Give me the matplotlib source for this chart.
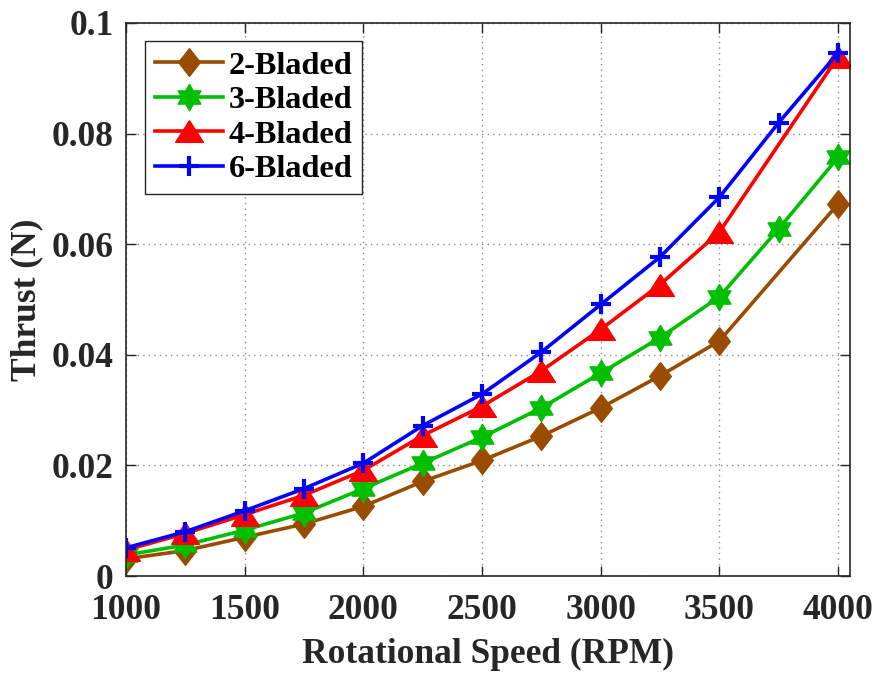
import numpy as np
import matplotlib
matplotlib.use("Agg")
import matplotlib.pyplot as plt

plt.rcParams['font.family'] = ['Liberation Serif', 'DejaVu Serif']
plt.rcParams['font.weight'] = 'bold'

# Rotational speed (RPM) for each propeller
rpm_full = [1000, 1250, 1500, 1750, 2000, 2250, 2500, 2750, 3000, 3250, 3500, 3750, 4000]
rpm_short = [1000, 1250, 1500, 1750, 2000, 2250, 2500, 2750, 3000, 3250, 3500, 4000]

# Thrust (N)
thrust_2 = [0.0031, 0.0046, 0.0070, 0.0094, 0.0126, 0.0171, 0.0209, 0.0253, 0.0304, 0.0362, 0.0425, 0.0673]
thrust_3 = [0.0038, 0.0056, 0.0083, 0.0114, 0.0158, 0.0204, 0.0251, 0.0304, 0.0367, 0.0431, 0.0505, 0.0628, 0.0757]
thrust_4 = [0.0047, 0.0077, 0.0111, 0.0146, 0.0191, 0.0254, 0.0307, 0.0371, 0.0446, 0.0527, 0.0622, 0.0939]
thrust_6 = [0.0051, 0.0080, 0.0118, 0.0158, 0.0204, 0.0272, 0.0329, 0.0405, 0.0491, 0.0577, 0.0685, 0.0820, 0.0946]

labels = ['2-Bladed', '3-Bladed', '4-Bladed', '6-Bladed']
colors = ['#994C00', '#00BF00', '#FF0000', '#0000FF']

x_ticks = [1000, 1500, 2000, 2500, 3000, 3500, 4000]
y_ticks = [0, 0.02, 0.04, 0.06, 0.08, 0.1]
y_ticklabels = ['0', '0.02', '0.04', '0.06', '0.08', '0.1']

# marker shapes
diamond = [(0, 1), (0.78, 0), (0, -1), (-0.78, 0), (0, 1)]
triangle = [(0, 0.78), (1, -0.78), (-1, -0.78), (0, 0.78)]
ang = np.deg2rad(90 + np.arange(12) * 30)
rad = np.where(np.arange(12) % 2 == 0, 1.0, 0.577)
hexagram = list(zip(rad * np.cos(ang), rad * np.sin(ang)))
hexagram.append(hexagram[0])

fig = plt.figure(figsize=(8.8, 6.74), dpi=100)
ax = fig.add_axes([0.1432, 0.1454, 0.8227, 0.8205])

ax.plot(rpm_short, thrust_2, color=colors[0], lw=2.6, marker=diamond, ms=20,
        mfc=colors[0], mec=colors[0], mew=1, label=labels[0])
ax.plot(rpm_full, thrust_3, color=colors[1], lw=2.6, marker=hexagram, ms=19,
        mfc=colors[1], mec=colors[1], mew=1, label=labels[1])
ax.plot(rpm_short, thrust_4, color=colors[2], lw=2.6, marker=triangle, ms=20,
        mfc=colors[2], mec=colors[2], mew=1, label=labels[2])
ax.plot(rpm_full, thrust_6, color=colors[3], lw=2.6, marker='+', ms=15,
        mew=3, label=labels[3])

ax.set_xlim(1000, 4050)
ax.set_ylim(0, 0.1)
ax.set_xticks(x_ticks)
ax.set_yticks(y_ticks)
ax.set_yticklabels(y_ticklabels)

ax.grid(True, linestyle=(0, (1, 3)), color='#8c8c8c', linewidth=1.0)
ax.set_axisbelow(True)
ax.tick_params(direction='in', length=7, width=1, top=True, right=True,
               labelsize=25.5, colors='#262626')
ax.tick_params(axis='x', pad=13)
ax.tick_params(axis='y', pad=9)
for lab in ax.get_xticklabels() + ax.get_yticklabels():
    lab.set_fontweight('bold')
for sp in ax.spines.values():
    sp.set_color('#262626')
    sp.set_linewidth(1.2)

ax.set_xlabel('Rotational Speed (RPM)', fontsize=25.5, fontweight='bold',
              color='#262626', labelpad=8)
ax.set_ylabel('Thrust (N)', fontsize=25.5, fontweight='bold',
              color='#262626', labelpad=6)

leg = ax.legend(loc='upper left', bbox_to_anchor=(0.026, 0.967), fontsize=23.3,
                frameon=True, fancybox=False, handlelength=2.1,
                handletextpad=0.2, borderpad=0.3, labelspacing=0.15,
                borderaxespad=0.0)
leg.get_frame().set_edgecolor('#262626')
leg.get_frame().set_linewidth(1.0)
leg.get_frame().set_alpha(1.0)
for t in leg.get_texts():
    t.set_fontweight('bold')

fig.savefig('out.png', dpi=100)
